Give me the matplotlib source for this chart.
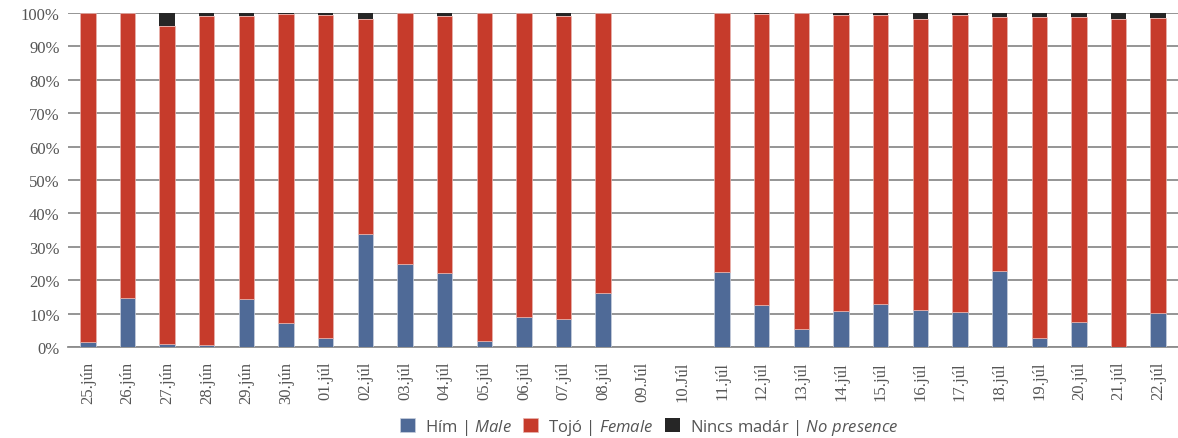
import numpy as np
import matplotlib.pyplot as plt

dates = ['25.jún', '26.jún', '27.jún', '28.jún', '29.jún', '30.jún', '01.júl',
         '02.júl', '03.júl', '04.júl', '05.júl', '06.júl', '07.júl', '08.júl',
         '09.Júl', '10.Júl', '11.júl', '12.júl', '13.júl', '14.júl', '15.júl',
         '16.júl', '17.júl', '18.júl', '19.júl', '20.júl', '21.júl', '22.júl']

# percent of time: male, no bird; female = rest (0 for days without data)
male = [1.5, 14.8, 0.8, 0.7, 14.5, 7.2, 2.7, 33.9, 24.9, 22.1, 1.7, 8.9, 8.4, 16.2,
        0, 0, 22.6, 12.7, 5.3, 10.8, 12.9, 11.1, 10.5, 22.8, 2.8, 7.6, 0, 10.2]
nobird = [0, 0, 4.0, 0.8, 0.8, 0.3, 0.6, 1.7, 0, 0.9, 0, 0, 0.8, 0,
          0, 0, 0, 0.2, 0, 0.5, 0.6, 1.9, 0.7, 1.3, 1.3, 1.3, 1.8, 1.5]
has_data = [1] * 14 + [0, 0] + [1] * 12

male = np.array(male)
nobird = np.array(nobird)
female = np.where(np.array(has_data) == 1, 100 - male - nobird, 0)

plt.rcParams['mathtext.fontset'] = 'custom'
plt.rcParams['mathtext.it'] = 'Open Sans:italic'
plt.rcParams['mathtext.rm'] = 'Open Sans'

c_male = '#4F6A97'
c_fem = '#C63B2B'
c_no = '#262626'

fig = plt.figure(figsize=(11.78, 4.39), dpi=100)
ax = fig.add_axes([68 / 1178, 91 / 439, 1 - 68 / 1178, 334 / 439])

x = np.arange(len(dates))
w = 0.39
ax.bar(x, male, w, color=c_male, edgecolor='#c9d0dd', linewidth=0.5,
       label='Hím | $\\mathit{Male}$', zorder=3)
ax.bar(x, female, w, bottom=male, color=c_fem, edgecolor='#e8b4ae', linewidth=0.5,
       label='Tojó | $\\mathit{Female}$', zorder=3)
ax.bar(x, nobird, w, bottom=male + female, color=c_no, linewidth=0,
       label='Nincs madár | $\\mathit{No\\ presence}$', zorder=3)

ax.set_xlim(-0.5, len(dates) - 0.5)
ax.set_ylim(0, 100)
ax.set_yticks(np.arange(0, 101, 10))
ax.set_yticklabels([f'{v}%' for v in range(0, 101, 10)],
                   family='Liberation Serif', fontsize=12, color='#555555')
ax.set_xticks(x)
ax.set_xticklabels(dates, rotation=90, family='Liberation Serif',
                   fontsize=12, color='#555555')
ax.tick_params(axis='both', length=0)
ax.tick_params(axis='x', pad=10)
ax.tick_params(axis='y', pad=6)
ax.grid(axis='y', color='#8c8c8c', linewidth=1.3, zorder=0)
for s in ['top', 'right', 'left']:
    ax.spines[s].set_visible(False)
ax.spines['bottom'].set_color('#8c8c8c')
ax.spines['bottom'].set_linewidth(1.3)

fig.legend(loc='center', bbox_to_anchor=(0.551, 0.025), ncol=3, frameon=False,
           prop={'family': 'Open Sans', 'size': 12}, handlelength=0.9,
           handleheight=0.9, handletextpad=0.6, columnspacing=0.7,
           labelcolor='#555555')

fig.savefig('out.png', dpi=100)
